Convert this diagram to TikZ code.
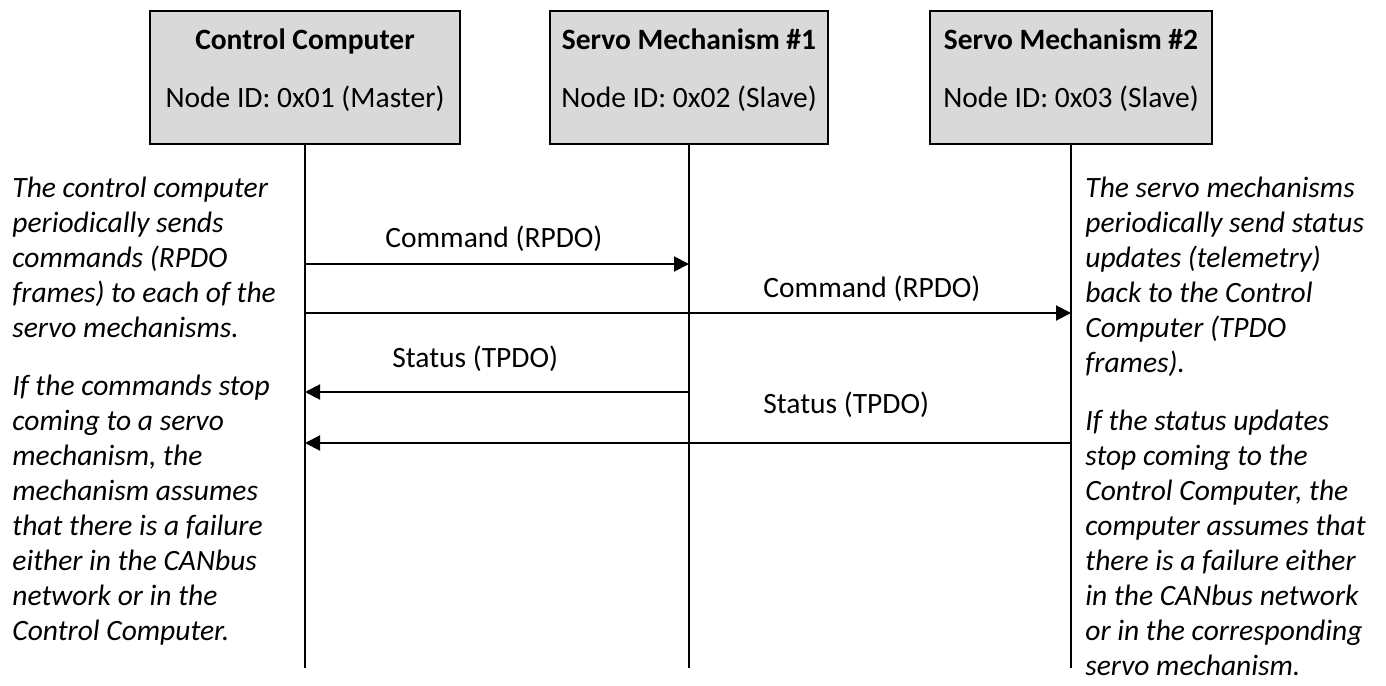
\documentclass[tikz,border=0pt]{standalone}
\usepackage{fontspec}
\setmainfont{Carlito}
\usetikzlibrary{arrows.meta}

\begin{document}
\begin{tikzpicture}[x=0.5pt, y=-0.5pt,
    every node/.style={font=\fontsize{14.75pt}{17.5pt}\selectfont, inner sep=0pt},
    unit/.style={rectangle, draw, line width=0.9pt, fill=black!15, minimum height=66.5pt,
        align=center, text height=39.5pt, text depth=10pt},
    note/.style={anchor=base west, align=left, font=\fontsize{14.75pt}{17.5pt}\selectfont\itshape},
    lbl/.style={anchor=base west},
    life/.style={line width=1pt},
    msg/.style={line width=1pt, -{Triangle[length=7.5pt, width=7.5pt]}}
]
\useasboundingbox (0,0) rectangle (1386,685);

% ----- units on the bus -----
\node[unit, minimum width=155pt] (cc)  at (305,77.5)  {\textbf{Control Computer}\\[11.5pt]Node ID: 0x01 (Master)};
\node[unit, minimum width=139pt] (sm1) at (689,77.5)  {\textbf{Servo Mechanism \#1}\\[11.5pt]Node ID: 0x02 (Slave)};
\node[unit, minimum width=141pt] (sm2) at (1071,77.5) {\textbf{Servo Mechanism \#2}\\[11.5pt]Node ID: 0x03 (Slave)};

% ----- lifelines -----
\coordinate (cc-end)  at (305,668);
\coordinate (sm1-end) at (689,668);
\coordinate (sm2-end) at (1071,668);

\draw[life] (cc)  -- (cc-end);
\draw[life] (sm1) -- (sm1-end);
\draw[life] (sm2) -- (sm2-end);

% ----- messages -----
\draw[msg] (cc |- 0,264)  -- (sm1 |- 0,264);
\draw[msg] (cc |- 0,313)  -- (sm2 |- 0,313);
\draw[msg] (sm1 |- 0,392) -- (cc |- 0,392);
\draw[msg] (sm2 |- 0,443) -- (cc |- 0,443);

\node[lbl] (cmd1) at (385,247) {Command (RPDO)};
\node[lbl] (cmd2) at (763,297) {Command (RPDO)};
\node[lbl] (st1)  at (392,367) {Status (TPDO)};
\node[lbl] (st2)  at (763,413) {Status (TPDO)};

% ----- notes (anchored at the last line) -----
\node[note] (master-note) at (12,640) {The control computer\\periodically sends\\commands (RPDO\\frames) to each of the\\servo mechanisms.\\[11.5pt]If the commands stop\\coming to a servo\\mechanism, the\\mechanism assumes\\that there is a failure\\either in the CANbus\\network or in the\\Control Computer.};
\node[note] (slave-note) at (1085,675) {The servo mechanisms\\periodically send status\\updates (telemetry)\\back to the Control\\Computer (TPDO\\frames).\\[11.5pt]If the status updates\\stop coming to the\\Control Computer, the\\computer assumes that\\there is a failure either\\in the CANbus network\\or in the corresponding\\servo mechanism.};

\end{tikzpicture}
\end{document}
